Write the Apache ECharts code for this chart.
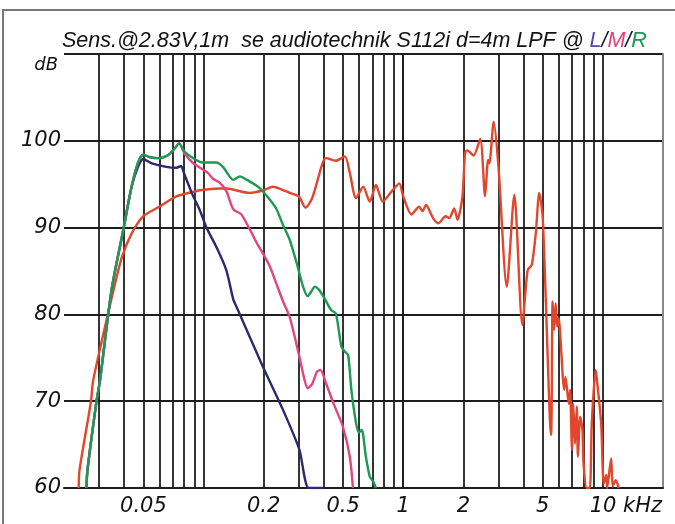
<!DOCTYPE html>
<html><head><meta charset="utf-8">
<script src="https://cdn.jsdelivr.net/npm/echarts@6/dist/echarts.min.js"></script>
<style>html,body{margin:0;padding:0;background:#fff}#c{width:675px;height:524px}</style>
</head><body><div id="c"></div>
<script>
// ---- data (frequency in kHz, level in dB) ----
const xTickLabels = [0.05, 0.2, 0.5, 1, 2, 5, 10];
const xGridFreqs = [0.03,0.04,0.05,0.06,0.07,0.08,0.09,0.1,0.2,0.3,0.4,0.5,0.6,0.7,0.8,0.9,1,2,3,4,5,6,7,8,9,10,20];
const yTickValues = [60, 70, 80, 90, 100, 110];

const fullFreq = [0.0237,0.0239,0.0273,0.028,0.0354,0.039,0.0436,0.0498,0.06,0.073,0.088,0.096,0.12,0.13,0.17,0.2,0.222,0.24,0.27,0.3,0.324,0.35,0.394,0.41,0.46,0.51,0.54,0.58,0.63,0.68,0.73,0.79,0.87,0.955,1.0,1.1,1.2,1.25,1.3,1.41,1.5,1.63,1.7,1.8,1.87,1.98,2.04,2.1,2.25,2.43,2.57,2.66,2.7,2.84,3.0,3.3,3.6,3.95,4.2,4.4,4.61,4.8,5.0,5.5,5.6,5.7,5.8,5.9,6.0,6.4,6.5,6.75,6.85,7.0,7.1,7.25,7.4,7.5,7.7,7.9,8.0,8.3,8.6,8.8,9.2,9.3,9.8,10.1,10.4,10.5,11,11.2,11.6,12];
const fullDb   = [60,62,70,72.4,82.8,86.6,89.3,91.3,92.4,93.6,94.1,94.3,94.5,94.5,94.0,94.3,94.7,94.5,94.0,93.6,92.3,93.4,97.4,98.0,97.7,98.2,96.3,93.4,94.7,93.0,94.9,93.0,94.1,95.1,93.6,91.5,92.4,91.9,92.6,91.1,90.5,91.3,91.1,92.2,90.9,93.6,98.6,98.9,98.3,100.2,93.6,97.8,97.4,102.2,97.0,83.2,93.8,78.8,85.1,85.7,89.3,94.0,91.1,66.1,81.5,78.2,81.3,78.6,79.6,71.3,72.8,69.7,71.3,64.4,69.7,65.1,69.4,63.6,68.2,66.7,62.8,60,60,67.5,73.6,72.8,67.5,60.5,61.5,60,63.4,60.2,60.9,60];

const lFreq = [0.0259,0.0262,0.0291,0.0303,0.0346,0.0396,0.0436,0.047,0.0498,0.055,0.065,0.0733,0.077,0.08,0.088,0.0958,0.103,0.118,0.13,0.141,0.146,0.198,0.25,0.302,0.337,0.4];
const lDb   = [60,62,70,72.4,82.8,89.7,94.7,97.0,97.9,97.4,97.0,96.9,97.1,96.2,93.8,92.0,90.1,87.4,85.1,81.7,80.9,74.0,69.0,64.4,60,60];

const mFreq = [0.0259,0.0262,0.0291,0.0303,0.0346,0.0396,0.0436,0.047,0.0498,0.054,0.06,0.066,0.071,0.0755,0.08,0.088,0.096,0.105,0.112,0.12,0.13,0.141,0.155,0.185,0.194,0.215,0.231,0.25,0.27,0.302,0.32,0.332,0.35,0.37,0.385,0.41,0.45,0.498,0.54,0.56];
const mDb   = [60,62,70,72.4,82.8,89.7,94.7,97.5,98.4,98.1,98.0,98.3,99.0,99.7,98.6,97.5,96.9,96.3,95.6,95.2,94.2,92.1,91.5,88.2,87.4,85.5,83.6,81.5,79.7,75.1,72.5,71.5,72.0,73.4,73.6,72.1,69.6,67.1,63.6,60];

const rFreq = [0.0259,0.0262,0.0291,0.0303,0.0346,0.0396,0.0436,0.047,0.0498,0.054,0.06,0.066,0.071,0.0755,0.08,0.09,0.099,0.116,0.125,0.141,0.152,0.165,0.19,0.21,0.231,0.25,0.27,0.296,0.315,0.332,0.35,0.36,0.38,0.40,0.435,0.46,0.49,0.51,0.53,0.55,0.58,0.60,0.62,0.65,0.68,0.70,0.71,0.73];
const rDb   = [60,62,70,72.4,82.8,89.7,94.7,97.5,98.4,98.1,98.0,98.3,99.0,99.7,98.8,97.9,97.5,97.5,97.0,95.5,95.9,95.5,94.6,93.5,92.2,90.3,88.6,85.5,83.2,82.1,82.8,83.2,82.8,82.0,80.5,80.1,76.3,75.7,75.3,71.3,67.5,66.4,66.7,63.6,61.3,60.9,60.7,60];

const COL_FULL = '#e2462c', COL_L = '#2c2a6e', COL_M = '#e0467e', COL_R = '#1c9a52';
const FONT = 'DejaVu Sans';
const TFONT = 'Liberation Sans';

const lg = v => Math.log10(v);
const pairs = (fs, ds) => fs.map((f, i) => [lg(f), ds[i]]);

const chart = echarts.init(document.getElementById('c'), null, {renderer: 'canvas'});
const lineSeries = (name, fs, ds, color, z) => ({
  name, type: 'line', data: pairs(fs, ds), showSymbol: false, symbol: 'none',
  smooth: 0.25, z, clip: true,
  lineStyle: {color, width: 2.4}
});

const labelFor = v => {
  for (const f of xTickLabels) if (Math.abs(lg(f) - v) < 1e-6) return f === 10 ? '{n|10}{k| kHz}' : String(f);
  return '';
};
const tStyle = c => ({fontFamily: TFONT, fontStyle: 'italic', fontWeight: 'normal', fontSize: 21.5, color: c});
const lStyle = (extra) => Object.assign({fontFamily: FONT, fontStyle: 'italic', fontSize: 21, color: '#111'}, extra || {});

chart.setOption({
  animation: false,
  backgroundColor: '#fff',
  title: {
    left: 57, top: 25,
    text: '{a|Sens.@2.83V,1m  se audiotechnik S112i d=4m LPF @ }{l|L}{a|/}{m|M}{a|/}{r|R}',
    textStyle: {
      fontWeight: 'normal',
      rich: {a: tStyle('#111'), l: tStyle('#4b4ba8'), m: tStyle('#e0407a'), r: tStyle('#1a9a50')}
    }
  },
  graphic: [{
    type: 'rect', silent: true, z: -1,
    shape: {x: 3, y: 10, width: 700, height: 600},
    style: {fill: 'none', stroke: '#777', lineWidth: 2}
  }],
  grid: {left: 64, right: 12, top: 54, bottom: 36, show: false},
  xAxis: {
    type: 'value', min: lg(0.02), max: lg(20),
    axisLine: {show: true, lineStyle: {color: '#1e1e1e', width: 2}},
    axisTick: {show: false, customValues: xGridFreqs.map(lg)},
    splitLine: {show: true, lineStyle: {color: '#1e1e1e', width: 1.8}},
    axisLabel: Object.assign(lStyle(), {
      customValues: xTickLabels.map(lg),
      formatter: labelFor,
      margin: 8,
      rich: {n: lStyle({padding: [0, 0, 0, 46]}), k: lStyle()}
    })
  },
  yAxis: [{
    type: 'value', min: 60, max: 110, interval: 10,
    axisLine: {show: true, lineStyle: {color: '#1e1e1e', width: 2}},
    axisTick: {show: false},
    splitLine: {show: true, lineStyle: {color: '#1e1e1e', width: 1.8}},
    axisLabel: Object.assign(lStyle(), {
      formatter: v => v === 110 ? '{u|dB}' : String(v),
      margin: 3,
      rich: {u: lStyle({fontSize: 18, padding: [22, 3, 0, 0]})}
    })
  }, {
    type: 'value', min: 60, max: 110, position: 'right',
    axisLine: {show: true, lineStyle: {color: '#888', width: 2}},
    axisTick: {show: false}, axisLabel: {show: false}, splitLine: {show: false}
  }],
  series: [
    lineSeries('Full range', fullFreq, fullDb, COL_FULL, 3),
    lineSeries('L', lFreq, lDb, COL_L, 4),
    lineSeries('M', mFreq, mDb, COL_M, 5),
    lineSeries('R', rFreq, rDb, COL_R, 6)
  ]
});
</script>
</body></html>
